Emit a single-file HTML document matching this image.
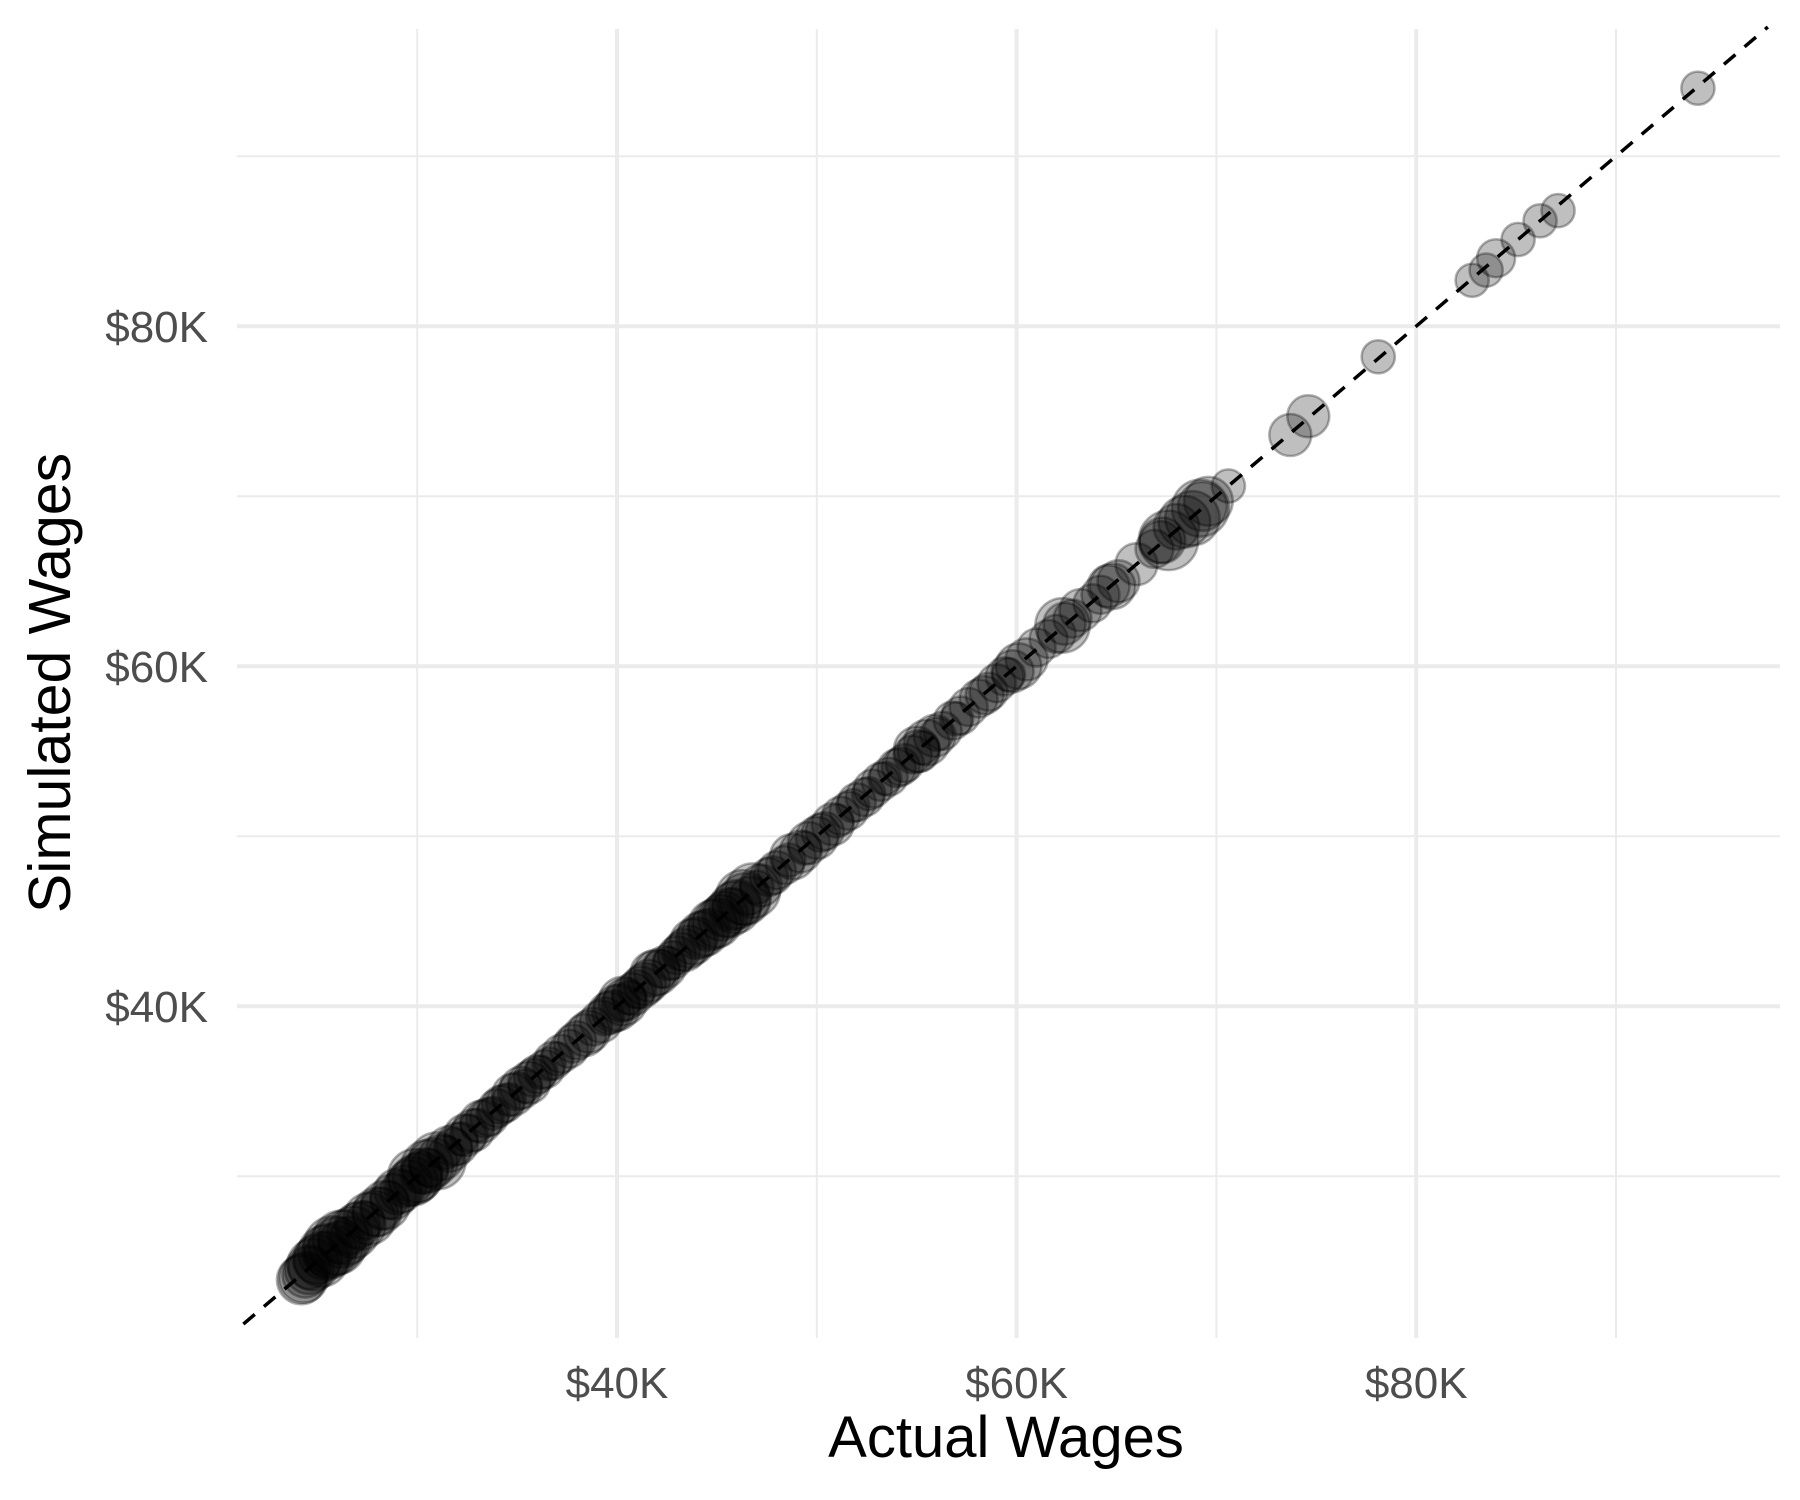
<!DOCTYPE html>
<html><head><meta charset="utf-8">
<style>
html,body{margin:0;padding:0;background:#fff;}
svg{display:block;font-family:"Liberation Sans",Arial,sans-serif;}
</style></head>
<body>
<svg id="chart" width="1800" height="1500" viewBox="0 0 1800 1500" xmlns="http://www.w3.org/2000/svg">
<rect x="0" y="0" width="1800" height="1500" fill="#fff"/>
<g id="grid"></g>
<g id="points"></g>
<g id="refline"></g>
<g id="axes"></g>
<text x="1006" y="1457" font-size="58" text-anchor="middle" fill="#000">Actual Wages</text>
<text transform="translate(70,683) rotate(-90)" font-size="59" text-anchor="middle" fill="#000">Simulated Wages</text>
</svg>
<script>
const xTicks = [40, 60, 80];
const xTickLabels = ["$40K", "$60K", "$80K"];
const xMinor = [30, 50, 70, 90];
const yTicks = [40, 60, 80];
const yTickLabels = ["$40K", "$60K", "$80K"];
const yMinor = [30, 50, 70, 90];
const lineRange = [21.3, 97.6];
const actual = [94.1,87.1,86.2,85.1,84.0,83.5,82.8,78.1,74.6,73.7,70.6,69.6,69.2,68.8,68.4,68.0,67.6,67.2,66.9,66.0,65.1,64.6,64.2,63.8,63.2,62.8,62.4,62.0,61.6,61.0,60.5,60.1,59.8,59.4,59.0,58.6,58.1,57.6,57.2,56.8,56.3,55.9,55.5,55.1,54.8,54.4,54.0,53.6,53.2,52.8,52.4,52.0,51.6,51.2,50.8,50.4,50.0,49.6,49.2,48.8,48.4,48.0,47.6,47.2,46.8,46.4,46.0,45.6,45.2,44.8,44.4,44.0,43.6,43.2,42.8,42.4,42.0,41.6,41.2,40.8,40.4,40.0,39.6,39.2,38.8,38.4,38.0,37.6,37.2,36.8,36.4,36.0,35.6,35.2,34.8,34.4,34.0,33.6,33.2,32.8,32.4,32.0,31.6,31.2,30.8,30.4,30.0,29.6,29.2,28.8,28.4,28.0,27.6,27.2,26.8,26.4,26.0,25.6,25.2,24.8,24.6,24.4,24.3,24.2,29.9,30.5,31.0,26.2,25.8,25.4,27.9,46.3,45.9,45.0,44.2,41.8,40.3,55.0,64.8,62.3,69.3,67.3,
24.6,25.0,25.5,26.1,26.6,27.0,27.4,28.2,28.6,29.0,29.4,29.8,30.2,30.6,31.4,31.8,32.2,32.6,33.0,33.4,33.8,34.2,34.6,35.0,35.4,35.8,36.2,36.6,37.0,37.8,38.6,39.4,39.8,40.2,40.6,41.0,41.4,42.2,42.6,43.0,43.4,43.8,44.6,45.4,45.8,46.6,47.0,47.8,48.6,49.4,50.2,51.0,51.8,52.6,53.4,54.2,55.3,56.0,57.0,58.4,59.6,60.2];
const simulated = [94.0,86.8,86.2,85.1,84.0,83.3,82.7,78.2,74.7,73.6,70.6,69.7,69.3,68.7,68.5,68.2,67.4,67.3,66.9,66.0,65.0,64.7,64.2,63.7,63.3,62.8,62.5,61.9,61.6,61.1,60.4,60.0,59.7,59.4,59.0,58.5,58.1,57.6,57.1,56.8,56.2,55.9,55.5,55.0,54.8,54.3,54.0,53.5,53.2,52.8,52.3,52.0,51.5,51.2,50.7,50.3,49.9,49.6,49.1,48.8,48.3,48.0,47.6,47.1,46.8,46.3,46.0,45.5,45.2,44.8,44.3,44.0,43.5,43.2,42.7,42.3,42.0,41.5,41.1,40.7,40.4,39.9,39.6,39.1,38.8,38.3,38.0,37.5,37.2,36.8,36.3,36.0,35.5,35.2,34.8,34.3,34.0,33.5,33.2,32.7,32.4,31.9,31.6,31.1,30.8,30.3,29.9,29.6,29.1,28.8,28.3,27.9,27.5,27.1,26.7,26.4,25.9,25.6,25.1,24.8,24.5,24.2,24.0,23.9,30.0,30.6,30.9,26.3,25.9,25.5,27.8,46.4,45.8,44.9,44.2,41.9,40.3,55.1,64.7,62.4,69.4,67.4,
24.6,25.1,25.4,26.1,26.5,27.1,27.4,28.1,28.6,29.1,29.4,29.7,30.2,30.5,31.4,31.7,32.2,32.5,33.0,33.4,33.7,34.2,34.5,35.0,35.3,35.8,36.1,36.6,36.9,37.8,38.5,39.4,39.7,40.2,40.5,41.0,41.3,42.2,42.5,43.0,43.3,43.8,44.5,45.4,45.7,46.5,47.0,47.7,48.6,49.3,50.2,50.9,51.8,52.5,53.4,54.1,55.2,56.0,56.9,58.3,59.5,60.1];
const sizes = [2,2,2,2,3,2,2,2,4,4,2,6,9,8,7,5,10,4,3,4,4,4,3,3,4,3,4,3,3,3,4,5,4,3,3,3,3,3,3,3,3,4,5,4,3,3,3,3,3,3,3,3,3,3,4,3,4,4,4,5,3,3,3,4,8,7,6,6,5,6,5,4,4,3,3,4,5,4,4,4,4,5,4,4,3,4,3,3,3,3,3,3,4,4,4,3,3,3,4,4,4,4,5,5,6,5,6,5,4,5,6,6,7,6,7,8,9,8,8,7,6,5,6,6,8,7,9,9,10,8,5,8,7,6,5,5,6,5,5,8,6,
5,4,6,5,4,3,5,3,4,3,5,4,6,4,3,2,3,2,3,2,3,2,3,2,3,2,3,2,2,2,3,4,3,4,3,2,3,4,3,2,3,4,5,4,5,4,3,2,3,2,2,3,2,2,2,2,3,2,2,2,3,2];

const NS = "http://www.w3.org/2000/svg";
const X0 = 237, X1 = 1780, Y0 = 29, Y1 = 1338;
function xScale(v){ return 617 + (v - 40) * 19.98; }
function yScale(v){ return 1006.2 - (v - 40) * 17.0; }
function rScale(s){ return 6 + Math.sqrt(s) * 7.5; }
function mk(tag, attrs, parent){
  const e = document.createElementNS(NS, tag);
  for (const k in attrs) e.setAttribute(k, attrs[k]);
  parent.appendChild(e);
  return e;
}
const grid = document.getElementById('grid');
xMinor.forEach(v => {
  const l = mk('line', {x1:xScale(v), x2:xScale(v), y1:Y0, y2:Y1, stroke:'#ebebeb', 'stroke-width':2}, grid);
  
  
});
yMinor.forEach(v => {
  const l = mk('line', {x1:X0, x2:X1, y1:yScale(v), y2:yScale(v), stroke:'#ebebeb', 'stroke-width':2}, grid);
  
  
});
xTicks.forEach(v => {
  const l = mk('line', {x1:xScale(v), x2:xScale(v), y1:Y0, y2:Y1, stroke:'#ebebeb', 'stroke-width':4}, grid);
  
  
});
yTicks.forEach(v => {
  const l = mk('line', {x1:X0, x2:X1, y1:yScale(v), y2:yScale(v), stroke:'#ebebeb', 'stroke-width':4}, grid);
  
  
});
const axes = document.getElementById('axes');
xTicks.forEach((v, i) => {
  const t = mk('text', {x:xScale(v), y:1398, 'font-size':44, 'text-anchor':'middle', fill:'#4d4d4d'}, axes);
  t.textContent = xTickLabels[i];
  
  
});
yTicks.forEach((v, i) => {
  const t = mk('text', {x:208, y:yScale(v) + 16, 'font-size':44, 'text-anchor':'end', fill:'#4d4d4d'}, axes);
  t.textContent = yTickLabels[i];
  
  
});
const pts = document.getElementById('points');
actual.forEach((a, i) => {
  const c = mk('circle', {cx:xScale(a), cy:yScale(simulated[i]), r:rScale(sizes[i]), fill:'rgba(0,0,0,0.25)', stroke:'rgba(0,0,0,0.3)', 'stroke-width':2.5}, pts);
  
  
});
const rl = document.getElementById('refline');
const ln = mk('line', {x1:xScale(lineRange[0]), y1:yScale(lineRange[0]), x2:xScale(lineRange[1]), y2:yScale(lineRange[1]), stroke:'#000', 'stroke-width':3.5, 'stroke-dasharray':'15 12'}, rl);


</script>
</body></html>
